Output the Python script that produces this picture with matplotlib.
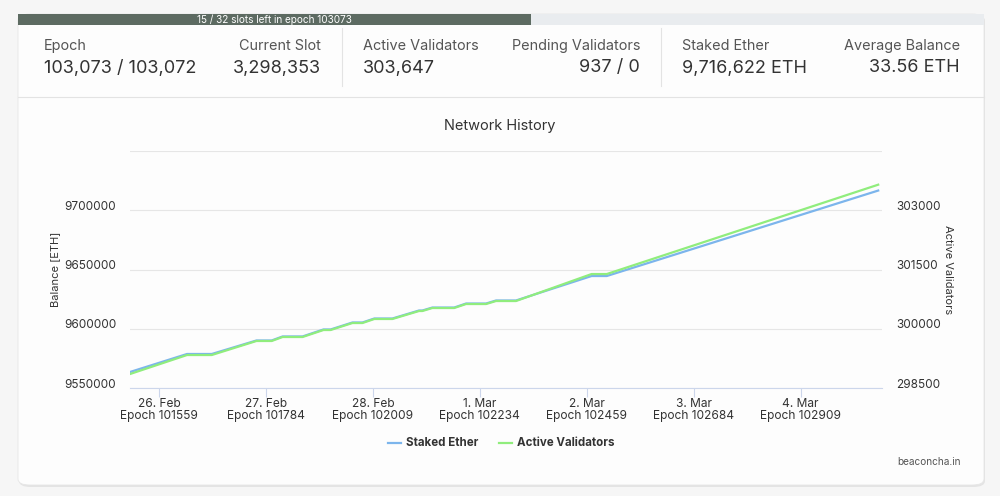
"""
Network History panel (beaconcha.in style)
"""

import matplotlib
matplotlib.use("Agg")
import matplotlib.pyplot as plt
import matplotlib.transforms as mtransforms
from matplotlib.patches import FancyBboxPatch, Rectangle
from matplotlib.lines import Line2D

plt.rcParams['font.family'] = ['Inter', 'DejaVu Sans']

# Stats row
STAT_LABELS = ["Epoch", "Current Slot", "Active Validators", "Pending Validators",
               "Staked Ether", "Average Balance"]
STAT_VALUES = ["103,073 / 103,072", "3,298,353", "303,647", "937 / 0",
               "9,716,622 ETH", "33.56 ETH"]
SLOTS_LEFT = 15
SLOTS_PER_EPOCH = 32
CURRENT_EPOCH = 103073

# Series
EPOCHS = [101498, 101618, 101670, 101764, 101796, 101819, 101861, 101905, 101920,
          101966, 101987, 102012, 102050, 102106, 102113, 102134, 102180, 102205,
          102247, 102268, 102310, 102469, 102501, 103072]
STAKED_ETHER = [9563500, 9578700, 9578700, 9590100, 9590100, 9593500, 9593500,
                9599400, 9599400, 9605300, 9605300, 9608650, 9608650, 9615400,
                9615400, 9617900, 9617900, 9621300, 9621300, 9623850, 9623850,
                9644500, 9644500, 9716622]
ACTIVE_VALIDATORS = [298854, 299335, 299335, 299690, 299690, 299791, 299791,
                     299968, 299968, 300145, 300145, 300247, 300247, 300449,
                     300449, 300525, 300525, 300626, 300626, 300702, 300702,
                     301385, 301385, 303647]

TICK_EPOCHS = [101559, 101784, 102009, 102234, 102459, 102684, 102909]
TICK_DATES = ["26. Feb", "27. Feb", "28. Feb", "1. Mar", "2. Mar", "3. Mar", "4. Mar"]

ETH_TICKS = [9550000, 9600000, 9650000, 9700000, 9750000]
VAL_TICKS = [298500, 300000, 301500, 303000, 304500]

W, H = 1000, 496
fig = plt.figure(figsize=(W / 100, H / 100), dpi=100)
fig.patch.set_facecolor("#f6f6f6")

def fx(px):
    return px / W

def fy(py):
    return 1 - py / H

# Card with a soft shadow (kept behind the axes)
shadow = FancyBboxPatch((fx(19), fy(487)), fx(966), fy(15) - fy(487),
                        boxstyle="round,pad=0,rounding_size=0.012",
                        transform=fig.transFigure, facecolor="#e4e4e4",
                        edgecolor="none", zorder=-3)
card = FancyBboxPatch((fx(18), fy(485)), fx(966), fy(14) - fy(485),
                      boxstyle="round,pad=0,rounding_size=0.012",
                      transform=fig.transFigure, facecolor="#fdfdfd",
                      edgecolor="#e6e6e6", linewidth=0.6, zorder=-2)
fig.patches.extend([shadow, card])

# Epoch progress bar
bar_left, bar_right = 18, 984
done = (SLOTS_PER_EPOCH - SLOTS_LEFT) / SLOTS_PER_EPOCH
bar_mid = bar_left + (bar_right - bar_left) * done
fig.patches.append(Rectangle((fx(bar_left), fy(25)), fx(bar_right - bar_left), fy(14) - fy(25),
                             transform=fig.transFigure, facecolor="#e9ecef",
                             edgecolor="none", zorder=-1))
fig.patches.append(Rectangle((fx(bar_left), fy(25)), fx(bar_mid - bar_left), fy(14) - fy(25),
                             transform=fig.transFigure, facecolor="#5d6b62",
                             edgecolor="none", zorder=-1))
fig.text(fx((bar_left + bar_mid) / 2), fy(19.5),
         f"{SLOTS_LEFT} / {SLOTS_PER_EPOCH} slots left in epoch {CURRENT_EPOCH}",
         color="white", fontsize=7.2, ha="center", va="center")

# Stats row
stat_x = [44, 321, 363, 640, 682, 960]
stat_ha = ["left", "right", "left", "right", "left", "right"]
for lbl, val, x, ha in zip(STAT_LABELS, STAT_VALUES, stat_x, stat_ha):
    fig.text(fx(x), fy(46), lbl, fontsize=10.4, color="#555555", ha=ha, va="center")
    fig.text(fx(x), fy(68), val, fontsize=13, color="#333333", ha=ha, va="center")
for x in [342, 661]:
    fig.lines.append(Line2D([fx(x), fx(x)], [fy(28), fy(86)], transform=fig.transFigure,
                            color="#e3e3e3", linewidth=0.8))
fig.lines.append(Line2D([fx(18), fx(984)], [fy(97), fy(97)], transform=fig.transFigure,
                        color="#e3e3e3", linewidth=0.8))

# Chart
ax = fig.add_axes([fx(130), fy(388), fx(882 - 130), fy(151) - fy(388)])
ax.set_facecolor("none")
ax.plot(EPOCHS, STAKED_ETHER, color="#7cb5ec", linewidth=1.6, zorder=3)
ax.set_xlim(EPOCHS[0], 103080)
ax.set_ylim(ETH_TICKS[0], ETH_TICKS[-1])
ax.set_yticks(ETH_TICKS)
ax.set_yticklabels([str(t) for t in ETH_TICKS[:-1]] + [""])
ax.set_xticks(TICK_EPOCHS)
ax.set_xticklabels([f"{d}\nEpoch {e}" for d, e in zip(TICK_DATES, TICK_EPOCHS)])
ax.grid(axis="y", color="#e6e6e6", linewidth=0.8)
for side in ["top", "right", "left"]:
    ax.spines[side].set_visible(False)
ax.spines["bottom"].set_color("#ccd6eb")
ax.tick_params(axis="x", colors="#ccd6eb", length=6.5, width=0.8, labelcolor="#333333",
               labelsize=8.6, pad=1)
ax.tick_params(axis="y", length=0, labelcolor="#333333", labelsize=8.5, pad=10)
ax.set_ylabel("Balance [ETH]", fontsize=8, color="#333333", labelpad=3)
for t in ax.get_xticklabels():
    t.set_linespacing(1.0)

ax2 = ax.twinx()
ax2.plot(EPOCHS, ACTIVE_VALIDATORS, color="#90ed7d", linewidth=1.6, zorder=4)
ax2.set_ylim(VAL_TICKS[0], VAL_TICKS[-1])
ax2.set_yticks(VAL_TICKS)
ax2.set_yticklabels([str(t) for t in VAL_TICKS[:-1]] + [""])
for side in ["top", "right", "left", "bottom"]:
    ax2.spines[side].set_visible(False)
ax2.tick_params(axis="y", length=0, labelcolor="#333333", labelsize=8.5, pad=10)
ax2.set_ylabel("Active Validators", fontsize=8, color="#333333", rotation=270,
               labelpad=9)

# Highcharts places y labels a little above their grid lines
lift = mtransforms.ScaledTranslation(0, 5 / 100, fig.dpi_scale_trans)
for t in ax.get_yticklabels() + ax2.get_yticklabels():
    t.set_transform(t.get_transform() + lift)

fig.text(0.5, fy(126), "Network History", fontsize=10.5, color="#333333",
         ha="center", va="center")

# Legend
fig.lines.append(Line2D([fx(388), fx(401)], [fy(443), fy(443)], transform=fig.transFigure,
                        color="#7cb5ec", linewidth=1.6))
fig.text(fx(406), fy(443), "Staked Ether", fontsize=8.3, fontweight="bold",
         color="#333333", ha="left", va="center")
fig.lines.append(Line2D([fx(499), fx(512)], [fy(443), fy(443)], transform=fig.transFigure,
                        color="#90ed7d", linewidth=1.6))
fig.text(fx(517), fy(443), "Active Validators", fontsize=8.3, fontweight="bold",
         color="#333333", ha="left", va="center")
fig.text(fx(961), fy(462), "beaconcha.in", fontsize=7.2, color="#555555",
         ha="right", va="center")

fig.savefig("out.png", dpi=100, facecolor=fig.get_facecolor())
